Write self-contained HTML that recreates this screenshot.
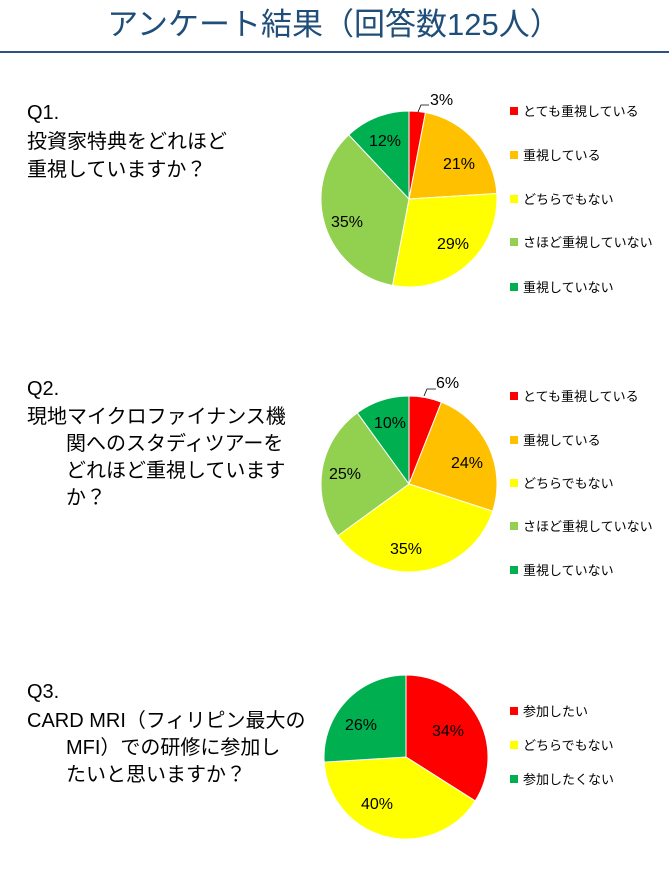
<!DOCTYPE html>
<html><head><meta charset="utf-8"><style>
body{margin:0;background:#fff;width:669px;height:887px;overflow:hidden;font-family:"Liberation Sans","Noto Sans CJK JP",sans-serif;}
</style></head><body>
<svg id="s" width="669" height="887" xmlns="http://www.w3.org/2000/svg" font-family="Liberation Sans, Noto Sans CJK JP, sans-serif">
<text x="334" y="35" text-anchor="middle" font-size="31" fill="#1F4E79">アンケート結果（回答数125人）</text>
<rect x="0" y="51" width="669" height="2" fill="#2F5180"/>
<g font-size="20" fill="#000">
<text x="27" y="119">Q1.</text>
<text x="27" y="148">投資家特典をどれほど</text>
<text x="27" y="176">重視していますか？</text>
<text x="27" y="395">Q2.</text>
<text x="27" y="423">現地マイクロファイナンス機</text>
<text x="66" y="450">関へのスタディツアーを</text>
<text x="66" y="477">どれほど重視しています</text>
<text x="66" y="504">か？</text>
<text x="27" y="698">Q3.</text>
<text x="27" y="727">CARD MRI（フィリピン最大の</text>
<text x="66" y="754">MFI）での研修に参加し</text>
<text x="66" y="781">たいと思いますか？</text>
</g>
<g id="pies"></g>
<g font-size="13" fill="#000" id="leg"></g>
<g font-size="16" fill="#000">
<text x="430" y="105">3%</text>
<text x="443" y="169">21%</text>
<text x="437" y="249">29%</text>
<text x="331" y="227">35%</text>
<text x="369" y="146">12%</text>
<text x="436" y="388">6%</text>
<text x="451" y="468">24%</text>
<text x="390" y="554">35%</text>
<text x="329" y="479">25%</text>
<text x="374" y="428">10%</text>
<text x="432" y="736">34%</text>
<text x="361" y="809">40%</text>
<text x="345" y="730">26%</text>
</g>
<polyline points="418,112 421,105 429,105" fill="none" stroke="#000" stroke-width="0.8"/>
<polyline points="424,396 427,389 436,389" fill="none" stroke="#000" stroke-width="0.8"/>
</svg>
<script>
var C={r:"#FF0000",o:"#FFC000",y:"#FFFF00",l:"#92D050",g:"#00B050"};
function pie(cx,cy,R,vals,cols){var t=0,sum=vals.reduce((a,b)=>a+b),h="";
vals.forEach(function(v,i){var a0=t/sum*2*Math.PI,a1=(t+v)/sum*2*Math.PI;t+=v;
var x0=cx+R*Math.sin(a0),y0=cy-R*Math.cos(a0),x1=cx+R*Math.sin(a1),y1=cy-R*Math.cos(a1);
h+='<path d="M'+cx+','+cy+'L'+x0+','+y0+'A'+R+','+R+' 0 '+((a1-a0)>Math.PI?1:0)+' 1 '+x1+','+y1+'Z" fill="'+cols[i]+'" stroke="#fff" stroke-width="1"/>';});return h;}
document.getElementById("pies").innerHTML=
pie(409,199,88,[3,21,29,35,12],[C.r,C.o,C.y,C.l,C.g])+
pie(409,484,88,[6,24,35,25,10],[C.r,C.o,C.y,C.l,C.g])+
pie(406,757,82,[34,40,26],[C.r,C.y,C.g]);
function leg(items,ys){var h="";items.forEach(function(it,i){h+='<rect x="510" y="'+(ys[i]-10)+'" width="8" height="8" fill="'+it[1]+'"/><text x="523" y="'+(ys[i]-1)+'">'+it[0]+'</text>';});return h;}
var L5=[["とても重視している",C.r],["重視している",C.o],["どちらでもない",C.y],["さほど重視していない",C.l],["重視していない",C.g]];
document.getElementById("leg").innerHTML=leg(L5,[117,161,205,248,293])+leg(L5,[402,446,489,532,576])+
leg([["参加したい",C.r],["どちらでもない",C.y],["参加したくない",C.g]],[717,751,785]);
</script>
</body></html>
